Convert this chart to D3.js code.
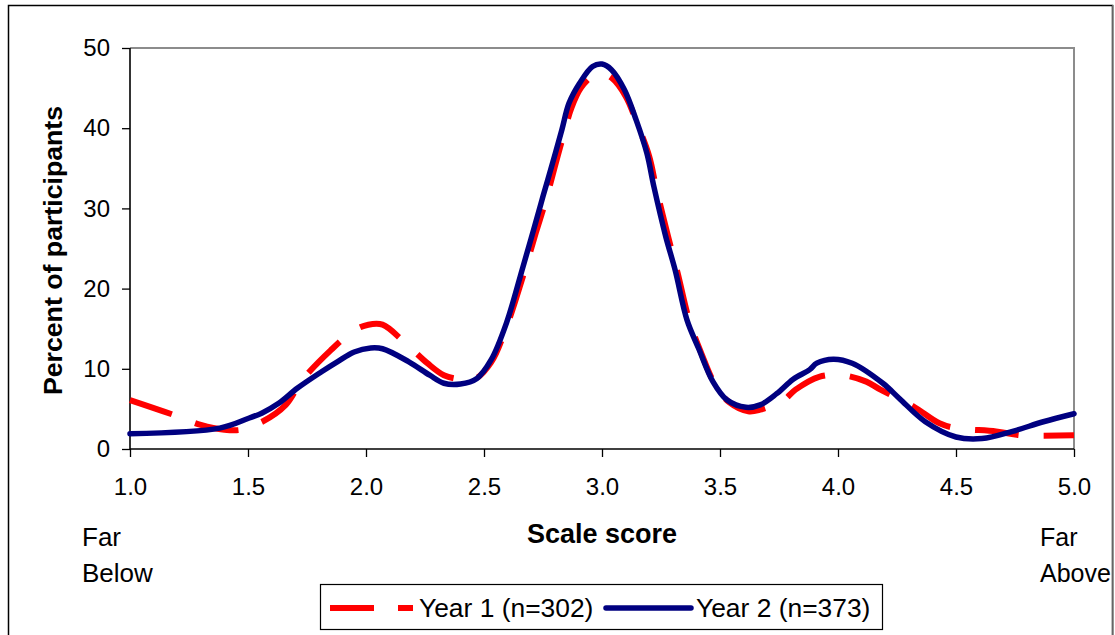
<!DOCTYPE html>
<html>
<head>
<meta charset="utf-8">
<script src="https://cdn.jsdelivr.net/npm/d3@7"></script>
<style>
  html, body { margin: 0; padding: 0; background: #fff; }
  svg { display: block; font-family: "Liberation Sans", Arial, sans-serif; }
</style>
</head>
<body>
<svg id="chart" width="1115" height="635"></svg>
<script>
// Scale score positions (x) and percent of participants (y) for each year
const year1Scores = [1.0, 1.19, 1.30, 1.40, 1.47, 1.50, 1.56, 1.66, 1.73, 1.85, 1.95, 2.01, 2.07, 2.16, 2.26, 2.33, 2.40, 2.46, 2.53, 2.595, 2.67, 2.72, 2.76, 2.80, 2.84, 2.87, 2.91, 2.96, 3.0, 3.04, 3.10, 3.15, 3.20, 3.23, 3.28, 3.32, 3.37, 3.42, 3.48, 3.54, 3.62, 3.67, 3.77, 3.82, 3.92, 4.02, 4.12, 4.18, 4.32, 4.43, 4.50, 4.67, 4.78, 5.0];
const year1Percent = [6.1, 4.2, 3.0, 2.4, 2.4, 2.8, 3.4, 5.5, 8.6, 12.3, 14.8, 15.5, 15.5, 13.4, 10.7, 9.2, 8.7, 8.7, 10.8, 15.2, 22.0, 27.0, 30.8, 35.2, 39.5, 42.5, 45.0, 46.5, 46.8, 46.3, 44.0, 40.5, 36.5, 32.5, 26.5, 22.0, 16.0, 12.0, 8.0, 5.8, 4.7, 4.9, 6.1, 7.4, 9.0, 9.2, 8.4, 7.4, 5.3, 3.2, 2.6, 2.2, 1.7, 1.7];

const year2Scores = [1.0, 1.38, 1.50, 1.56, 1.63, 1.71, 1.81, 1.88, 1.95, 2.02, 2.07, 2.18, 2.27, 2.33, 2.40, 2.47, 2.53, 2.595, 2.665, 2.71, 2.75, 2.79, 2.83, 2.86, 2.905, 2.96, 3.0, 3.04, 3.095, 3.145, 3.19, 3.22, 3.27, 3.31, 3.36, 3.41, 3.47, 3.53, 3.61, 3.67, 3.74, 3.81, 3.88, 3.91, 3.98, 4.06, 4.19, 4.26, 4.37, 4.50, 4.61, 4.74, 4.87, 5.0];
const year2Percent = [1.9, 2.6, 3.8, 4.5, 5.7, 7.6, 9.6, 10.9, 12.1, 12.6, 12.5, 10.9, 9.2, 8.2, 8.1, 8.8, 11.1, 15.7, 22.7, 27.3, 31.5, 35.6, 39.8, 43.1, 45.6, 47.7, 48.0, 47.3, 44.8, 41.0, 36.9, 32.7, 26.5, 22.3, 16.1, 12.5, 8.4, 6.1, 5.2, 5.5, 6.9, 8.7, 9.9, 10.7, 11.2, 10.7, 8.2, 6.3, 3.4, 1.5, 1.3, 2.2, 3.4, 4.4];

const seriesNames = ["Year 1 (n=302)", "Year 2 (n=373)"];
const xTickValues = [1.0, 1.5, 2.0, 2.5, 3.0, 3.5, 4.0, 4.5, 5.0];
const yTickValues = [0, 10, 20, 30, 40, 50];
const endLabelsLeft = ["Far", "Below"];
const endLabelsRight = ["Far", "Above"];

const svg = d3.select("#chart");
const W = 1115, H = 635;
const plot = { left: 130, right: 1074, top: 48, bottom: 449 };

const x = d3.scaleLinear().domain([1, 5]).range([plot.left, plot.right]);
const y = d3.scaleLinear().domain([0, 50]).range([plot.bottom, plot.top]);

// Outer chart frame
svg.append("rect").attr("x", 8.5).attr("y", 5.5).attr("width", 1104).attr("height", 640)
  .attr("fill", "#fff").attr("stroke", "#000").attr("stroke-width", 1.5);
svg.append("line").attr("x1", 1113).attr("x2", 1113).attr("y1", 5).attr("y2", H)
  .attr("stroke", "#888").attr("stroke-width", 1.5);

// Plot area border (top/right in grey)
svg.append("path")
  .attr("d", `M${plot.left},${plot.top}H${plot.right}V${plot.bottom}`)
  .attr("fill", "none").attr("stroke", "#8c8c8c").attr("stroke-width", 2);

// Axes
const yAxis = d3.axisLeft(y).tickValues(yTickValues).tickSize(8).tickPadding(12).tickFormat(d3.format("d"));
const gy = svg.append("g").attr("transform", `translate(${plot.left},0)`).call(yAxis);
gy.select(".domain").remove();
gy.selectAll(".tick line").attr("stroke", "#000").attr("stroke-width", 1.3);
gy.selectAll(".tick text").attr("font-size", 24).attr("fill", "#000")
  .attr("font-family", "'Liberation Sans', Arial, sans-serif");

const xAxis = d3.axisBottom(x).tickValues(xTickValues).tickSize(8).tickPadding(21).tickFormat(d3.format(".1f"));
const gx = svg.append("g").attr("transform", `translate(0,${plot.bottom})`).call(xAxis);
gx.select(".domain").remove();
gx.selectAll(".tick line").attr("stroke", "#000").attr("stroke-width", 1.3);
gx.selectAll(".tick text").attr("font-size", 24).attr("fill", "#000")
  .attr("font-family", "'Liberation Sans', Arial, sans-serif");

svg.append("line").attr("x1", plot.left).attr("x2", plot.left).attr("y1", plot.top).attr("y2", plot.bottom + 0.5)
  .attr("stroke", "#000").attr("stroke-width", 1.6);
svg.append("line").attr("x1", plot.left).attr("x2", plot.right).attr("y1", plot.bottom).attr("y2", plot.bottom)
  .attr("stroke", "#000").attr("stroke-width", 1.6);

// Series lines
const line = d3.line().x(d => x(d[0])).y(d => y(d[1])).curve(d3.curveCatmullRom.alpha(0.5));
const year1 = year1Scores.map((s, i) => [s, year1Percent[i]]);
const year2 = year2Scores.map((s, i) => [s, year2Percent[i]]);

svg.append("path").datum(year1).attr("d", line)
  .attr("fill", "none").attr("stroke", "#ff0000").attr("stroke-width", 6)
  .attr("stroke-dasharray", "44,25").attr("stroke-linecap", "butt");
svg.append("path").datum(year2).attr("d", line)
  .attr("fill", "none").attr("stroke", "#000080").attr("stroke-width", 5.5)
  .attr("stroke-linejoin", "round").attr("stroke-linecap", "round");

// Axis titles
svg.append("text").attr("transform", `translate(62,${(plot.top + plot.bottom) / 2 + 2}) rotate(-90)`)
  .attr("text-anchor", "middle").attr("font-size", 26.7).attr("font-weight", "bold").text("Percent of participants");
svg.append("text").attr("x", 602).attr("y", 543).attr("text-anchor", "middle")
  .attr("font-size", 27).attr("font-weight", "bold").text("Scale score");

// End-of-scale descriptors
endLabelsLeft.forEach((t, i) => svg.append("text").attr("x", 82).attr("y", 546 + i * 36)
  .attr("font-size", 26).text(t));
endLabelsRight.forEach((t, i) => svg.append("text").attr("x", 1040).attr("y", 546 + i * 36)
  .attr("font-size", 25).text(t));

// Legend
const lg = svg.append("g");
lg.append("rect").attr("x", 320.5).attr("y", 584.5).attr("width", 562).attr("height", 45)
  .attr("fill", "#fff").attr("stroke", "#000").attr("stroke-width", 1.2);
lg.append("line").attr("x1", 330).attr("x2", 413).attr("y1", 608).attr("y2", 608)
  .attr("stroke", "#ff0000").attr("stroke-width", 6).attr("stroke-dasharray", "44,24");
lg.append("text").attr("x", 419).attr("y", 617).attr("font-size", 26.4).text(seriesNames[0]);
lg.append("line").attr("x1", 606).attr("x2", 691).attr("y1", 608).attr("y2", 608)
  .attr("stroke", "#000080").attr("stroke-width", 5.5).attr("stroke-linecap", "round");
lg.append("text").attr("x", 696).attr("y", 617).attr("font-size", 26.4).text(seriesNames[1]);
</script>
</body>
</html>
